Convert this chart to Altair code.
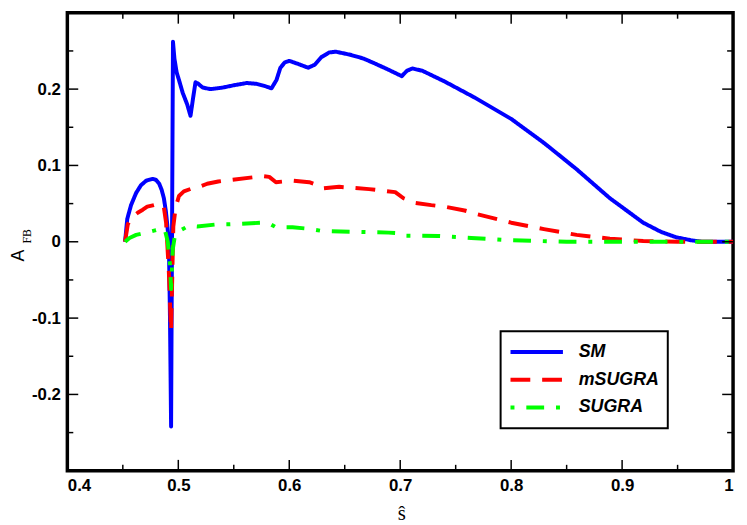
import altair as alt
import pandas as pd

# ---------------- data ----------------
series_names = ["SM", "mSUGRA", "SUGRA"]
series_colors = ["#0000ff", "#ff0000", "#00ff00"]
series_dashes = [[1, 0], [20, 12], [18, 12, 4, 12]]

sm_x = [0.452, 0.454, 0.4574, 0.462, 0.4663, 0.471, 0.4768, 0.480, 0.4828, 0.485, 0.487,
        0.4888, 0.490, 0.4915, 0.4925, 0.4935, 0.4952, 0.4965, 0.4985, 0.5006, 0.504, 0.508,
        0.511, 0.5135, 0.5155, 0.518, 0.522, 0.529, 0.540, 0.550, 0.5616, 0.570, 0.578, 0.584,
        0.5885, 0.592, 0.596, 0.600, 0.608, 0.617, 0.623, 0.629, 0.636, 0.642, 0.655, 0.667,
        0.678, 0.690, 0.6985, 0.7015, 0.706, 0.711, 0.720, 0.740, 0.767, 0.800, 0.830, 0.859,
        0.889, 0.919, 0.935, 0.9485, 0.962, 0.972, 1.0]
sm_y = [0.0, 0.030, 0.048, 0.064, 0.074, 0.080, 0.0824, 0.081, 0.076, 0.068, 0.057,
        0.040, 0.023, 0.0, -0.100, -0.242, 0.262, 0.240, 0.222, 0.212, 0.195, 0.180,
        0.165, 0.190, 0.209, 0.207, 0.202, 0.200, 0.202, 0.205, 0.208, 0.207, 0.204, 0.201,
        0.212, 0.228, 0.235, 0.237, 0.233, 0.228, 0.232, 0.242, 0.248, 0.249, 0.245, 0.240,
        0.233, 0.225, 0.219, 0.217, 0.224, 0.227, 0.224, 0.210, 0.189, 0.161, 0.129, 0.095,
        0.057, 0.025, 0.013, 0.006, 0.002, 0.0, 0.0]

ms_x = [0.452, 0.4545, 0.458, 0.4634, 0.468, 0.472, 0.478, 0.483, 0.487, 0.489, 0.4915,
        0.4935, 0.4955, 0.4976, 0.5006, 0.505, 0.5125, 0.517, 0.526, 0.536, 0.547, 0.5765,
        0.582, 0.588, 0.595, 0.603, 0.618, 0.624, 0.630, 0.645, 0.672, 0.6955, 0.703, 0.7134,
        0.728, 0.740, 0.758, 0.770, 0.800, 0.8295, 0.859, 0.889, 0.919, 0.950, 1.0]
ms_y = [0.0, 0.023, 0.032, 0.038, 0.042, 0.046, 0.048, 0.050, 0.045, 0.025, -0.040,
        -0.117, 0.020, 0.045, 0.060, 0.066, 0.070, 0.071, 0.076, 0.079, 0.081, 0.086,
        0.085, 0.078, 0.079, 0.080, 0.078, 0.075, 0.070, 0.072, 0.069, 0.065, 0.057, 0.051,
        0.048, 0.046, 0.041, 0.036, 0.025, 0.0166, 0.009, 0.004, 0.001, 0.0, 0.0]

su_x = [0.452, 0.456, 0.462, 0.471, 0.479, 0.4857, 0.488, 0.4905, 0.4925, 0.4935, 0.4950,
        0.4965, 0.4976, 0.502, 0.5095, 0.517, 0.536, 0.5467, 0.5765, 0.582, 0.588, 0.603,
        0.618, 0.630, 0.660, 0.6896, 0.700, 0.7045, 0.7344, 0.764, 0.800, 0.850, 1.0]
su_y = [0.0, 0.005, 0.009, 0.012, 0.015, 0.018, 0.015, 0.0, -0.030, -0.062, -0.010,
        0.004, 0.010, 0.015, 0.021, 0.020, 0.023, 0.023, 0.025, 0.024, 0.019, 0.019,
        0.017, 0.014, 0.013, 0.012, 0.011, 0.008, 0.0076, 0.005, 0.002, 0.0, 0.0]

x_major = [0.4, 0.5, 0.6, 0.7, 0.8, 0.9, 1.0]
x_minor = [0.45, 0.55, 0.65, 0.75, 0.85, 0.95]
y_major = [-0.2, -0.1, 0.0, 0.1, 0.2]
y_minor = [-0.25, -0.15, -0.05, 0.05, 0.15, 0.25]

# ---------------- build ----------------
frames = []
for name, xs, ys in zip(series_names, [sm_x, ms_x, su_x], [sm_y, ms_y, su_y]):
    frames.append(pd.DataFrame({"x": xs, "y": ys, "series": name}))
df = pd.concat(frames, ignore_index=True)

W, H = 673, 463
x_scale = alt.Scale(domain=[0.4, 1.0], nice=False, zero=False)
y_scale = alt.Scale(domain=[-0.3, 0.3], nice=False, zero=False)
x_axis = alt.Axis(values=x_major, labelExpr="toString(datum.value)", ticks=False,
                  domain=False, grid=False, title=None, labelPadding=7)
y_axis = alt.Axis(values=y_major, labelExpr="toString(datum.value)", ticks=False,
                  domain=False, grid=False, title=None, labelPadding=7)

base = alt.Chart(df).mark_line(strokeWidth=4, strokeJoin="round").encode(
    x=alt.X("x:Q", scale=x_scale, axis=x_axis),
    y=alt.Y("y:Q", scale=y_scale, axis=y_axis),
    color=alt.Color("series:N", scale=alt.Scale(domain=series_names, range=series_colors), legend=None),
    strokeDash=alt.StrokeDash("series:N", scale=alt.Scale(domain=series_names, range=series_dashes), legend=None),
)
line_layers = [base.transform_filter(alt.datum.series == s) for s in series_names]


def xticks(vals, length, bottom):
    return alt.Chart(pd.DataFrame({"x": vals})).mark_rule(color="black", strokeWidth=1.5).encode(
        x=alt.X("x:Q", scale=x_scale, axis=x_axis),
        y=alt.value(H if bottom else 0),
        y2=alt.value(H - length if bottom else length),
    )


def yticks(vals, length, left):
    return alt.Chart(pd.DataFrame({"y": vals})).mark_rule(color="black", strokeWidth=1.5).encode(
        y=alt.Y("y:Q", scale=y_scale, axis=y_axis),
        x=alt.value(0 if left else W),
        x2=alt.value(length if left else W - length),
    )


tick_layers = [
    xticks(x_major, 11, True), xticks(x_minor, 6, True),
    xticks(x_major, 11, False), xticks(x_minor, 6, False),
    yticks(y_major, 11, True), yticks(y_minor, 6, True),
    yticks(y_major, 11, False), yticks(y_minor, 6, False),
]

one = pd.DataFrame({"k": [0]})

# axis titles
title_layers = [
    alt.Chart(one).mark_text(text="A", angle=270, align="center", baseline="middle",
                             font="Liberation Sans", fontSize=18, color="black").encode(
        x=alt.value(-49), y=alt.value(245.5)),
    alt.Chart(one).mark_text(text="FB", angle=270, align="center", baseline="middle",
                             font="Liberation Serif", fontSize=12, color="black").encode(
        x=alt.value(-41), y=alt.value(226)),
    alt.Chart(one).mark_text(text="\u015d", align="center", baseline="alphabetic",
                             font="Liberation Serif", fontSize=21, color="black").encode(
        x=alt.value(338), y=alt.value(513)),
]

# legend
legend_layers = [
    alt.Chart(one).mark_rect(fill="white", stroke="black", strokeWidth=2).encode(
        x=alt.value(438), x2=alt.value(607), y=alt.value(322), y2=alt.value(420)),
]
rows = [343, 371, 399]
offsets = [0, 0, 30]
for i, s in enumerate(series_names):
    legend_layers.append(
        alt.Chart(one).mark_rule(color=series_colors[i], strokeDash=series_dashes[i],
                                 strokeDashOffset=offsets[i], strokeWidth=4).encode(
            x=alt.value(448), x2=alt.value(501), y=alt.value(rows[i])))
    legend_layers.append(
        alt.Chart(one).mark_text(text=s, align="left", baseline="middle", font="Liberation Sans",
                                 fontSize=18, fontStyle="italic", fontWeight="bold",
                                 color="black").encode(
            x=alt.value(517), y=alt.value(rows[i])))

chart = alt.layer(*line_layers, *tick_layers, *title_layers, *legend_layers).properties(
    width=W, height=H,
    autosize=alt.AutoSizeParams(type="none"),
    padding={"left": 60, "top": 2, "right": 6, "bottom": 52},
).configure_view(
    stroke="black", strokeWidth=3.5
).configure_axis(
    labelFont="Liberation Sans", labelFontSize=17, labelFontWeight="bold", labelColor="black"
)

chart.save("out.html", embed_options={"renderer": "svg", "actions": False})
